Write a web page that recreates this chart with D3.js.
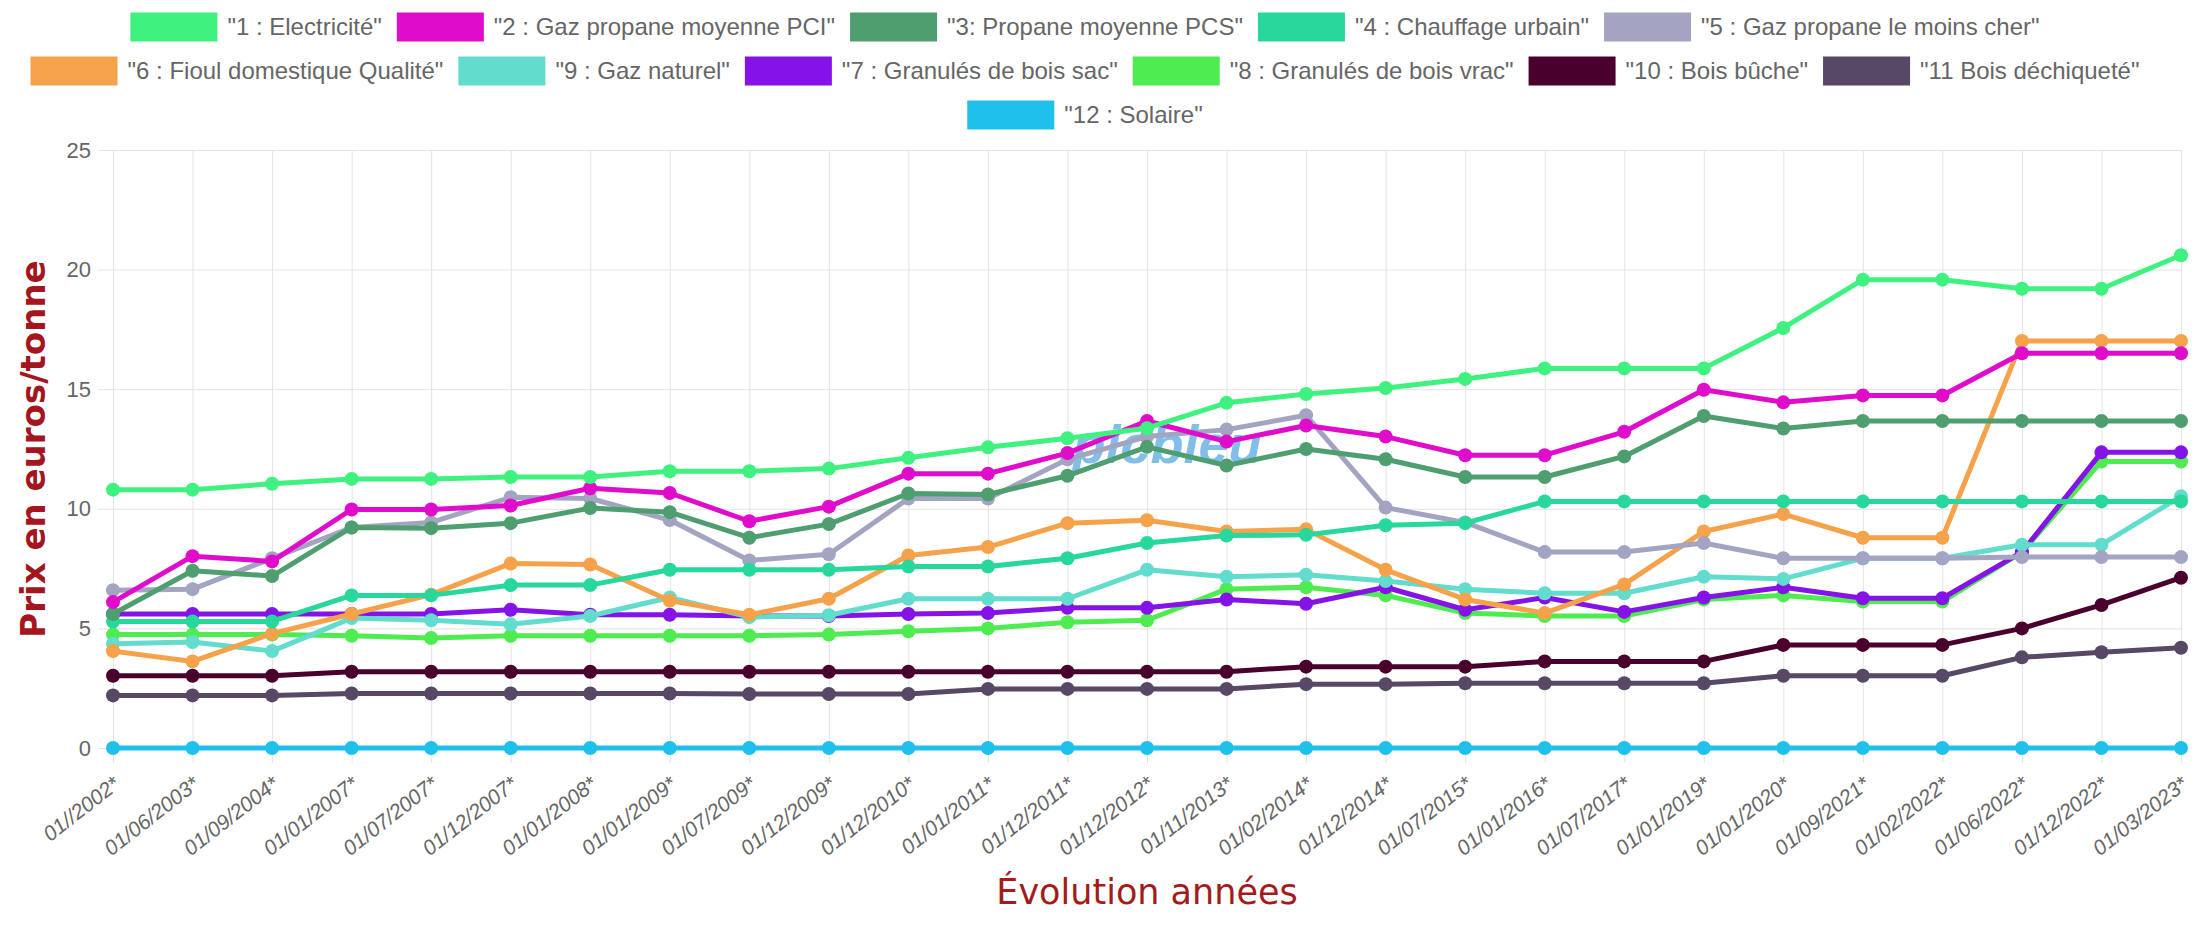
<!DOCTYPE html>
<html>
<head>
<meta charset="utf-8">
<script src="https://cdn.jsdelivr.net/npm/d3@7"></script>
<style>
  body { margin: 0; background: #fff; }
  svg { display: block; }
</style>
</head>
<body>
<script>
// Dates (x categories)
const dates = ["01//2002*", "01/06/2003*", "01/09/2004*", "01/01/2007*", "01/07/2007*", "01/12/2007*",
  "01/01/2008*", "01/01/2009*", "01/07/2009*", "01/12/2009*", "01/12/2010*", "01/01/2011*",
  "01/12/2011*", "01/12/2012*", "01/11/2013*", "01/02/2014*", "01/12/2014*", "01/07/2015*",
  "01/01/2016*", "01/07/2017*", "01/01/2019*", "01/01/2020*", "01/09/2021*", "01/02/2022*",
  "01/06/2022*", "01/12/2022*", "01/03/2023*"];

const yTicks = [0, 5, 10, 15, 20, 25];

// Series, in legend order
const seriesNames = ["\"1 : Electricité\"", "\"2 : Gaz propane moyenne PCI\"", "\"3: Propane moyenne PCS\"",
  "\"4 : Chauffage urbain\"", "\"5 : Gaz propane le moins cher\"", "\"6 : Fioul domestique Qualité\"",
  "\"9 : Gaz naturel\"", "\"7 : Granulés de bois sac\"", "\"8 : Granulés de bois vrac\"",
  "\"10 : Bois bûche\"", "\"11 Bois déchiqueté\"", "\"12 : Solaire\""];

const seriesColors = ["#3ff27f", "#e00ccb", "#4e9e6f", "#27d79c", "#a2a4c2", "#f5a24a",
  "#62dccd", "#8512e6", "#4eec50", "#4a002c", "#574865", "#1fc0ec"];

const electricite = [10.8, 10.8, 11.05, 11.25, 11.25, 11.33, 11.33, 11.57, 11.57, 11.68, 12.13, 12.57, 12.95,
  13.37, 14.43, 14.8, 15.05, 15.43, 15.87, 15.87, 15.87, 17.56, 19.58, 19.58, 19.2, 19.2, 20.6];
const propanePCI = [6.1, 8.02, 7.8, 9.97, 9.97, 10.14, 10.86, 10.66, 9.48, 10.09, 11.47, 11.47, 12.33,
  13.67, 12.81, 13.48, 13.02, 12.24, 12.24, 13.22, 14.98, 14.45, 14.74, 14.74, 16.5, 16.5, 16.5];
const propanePCS = [5.6, 7.41, 7.19, 9.22, 9.19, 9.4, 10.03, 9.86, 8.79, 9.36, 10.64, 10.6, 11.38,
  12.59, 11.81, 12.5, 12.07, 11.33, 11.33, 12.19, 13.88, 13.36, 13.67, 13.67, 13.67, 13.67, 13.67];
const chauffageUrbain = [5.29, 5.29, 5.29, 6.38, 6.38, 6.81, 6.81, 7.45, 7.45, 7.45, 7.59, 7.59, 7.93,
  8.57, 8.88, 8.91, 9.31, 9.4, 10.31, 10.31, 10.31, 10.31, 10.31, 10.31, 10.31, 10.31, 10.31];
const propaneMoinsCher = [6.6, 6.64, 7.93, 9.22, 9.43, 10.48, 10.43, 9.53, 7.84, 8.1, 10.43, 10.43, 12.07,
  13.02, 13.31, 13.91, 10.05, 9.43, 8.19, 8.19, 8.57, 7.93, 7.93, 7.93, 7.98, 7.98, 7.98];
const fioul = [4.05, 3.62, 4.78, 5.6, 6.41, 7.71, 7.67, 6.16, 5.57, 6.24, 8.05, 8.4, 9.4,
  9.52, 9.05, 9.14, 7.45, 6.21, 5.64, 6.84, 9.05, 9.78, 8.79, 8.79, 17.02, 17.02, 17.02];
const gazNaturel = [4.36, 4.43, 4.05, 5.43, 5.34, 5.17, 5.52, 6.29, 5.47, 5.55, 6.24, 6.24, 6.24,
  7.45, 7.16, 7.24, 6.98, 6.64, 6.47, 6.47, 7.16, 7.07, 7.93, 7.93, 8.5, 8.5, 10.52];
const granulesSac = [5.6, 5.6, 5.6, 5.6, 5.6, 5.78, 5.57, 5.57, 5.52, 5.52, 5.6, 5.64, 5.86,
  5.86, 6.21, 6.03, 6.72, 5.78, 6.29, 5.69, 6.29, 6.72, 6.26, 6.26, 8.19, 12.36, 12.36];
const granulesVrac = [4.74, 4.74, 4.74, 4.69, 4.6, 4.69, 4.69, 4.69, 4.69, 4.74, 4.88, 5.0, 5.26,
  5.34, 6.64, 6.72, 6.38, 5.64, 5.52, 5.52, 6.21, 6.38, 6.12, 6.12, 8.19, 11.98, 11.98];
const boisBuche = [3.02, 3.02, 3.02, 3.19, 3.19, 3.19, 3.19, 3.19, 3.19, 3.19, 3.19, 3.19, 3.19,
  3.19, 3.19, 3.4, 3.4, 3.4, 3.62, 3.62, 3.62, 4.31, 4.31, 4.31, 5.0, 5.98, 7.12];
const boisDechiquete = [2.2, 2.2, 2.2, 2.28, 2.28, 2.28, 2.28, 2.28, 2.26, 2.26, 2.26, 2.47, 2.47,
  2.47, 2.47, 2.67, 2.67, 2.71, 2.71, 2.71, 2.71, 3.02, 3.02, 3.02, 3.79, 4.0, 4.19];
const solaire = [0, 0, 0, 0, 0, 0, 0, 0, 0, 0, 0, 0, 0, 0, 0, 0, 0, 0, 0, 0, 0, 0, 0, 0, 0, 0, 0];

const seriesValues = [electricite, propanePCI, propanePCS, chauffageUrbain, propaneMoinsCher, fioul,
  gazNaturel, granulesSac, granulesVrac, boisBuche, boisDechiquete, solaire];

// Dimensions
const W = 2196, H = 951;
const margin = {top: 150, right: 15, bottom: 203, left: 113};
const width = W - margin.left - margin.right;
const height = H - margin.top - margin.bottom;

const svg = d3.select("body").append("svg")
  .attr("width", W)
  .attr("height", H)
  .style("font-family", "'Liberation Sans', Arial, sans-serif");

const g = svg.append("g")
  .attr("transform", "translate(" + margin.left + "," + margin.top + ")");

// Scales
const x = d3.scalePoint().domain(dates).range([0, width]);
const y = d3.scaleLinear().domain([0, 25]).range([height, 0]);

// Y axis + horizontal grid
const yAxis = g.append("g")
  .call(d3.axisLeft(y).tickValues(yTicks).tickSizeInner(-width).tickSizeOuter(0).tickPadding(22));
yAxis.select(".domain").remove();
yAxis.selectAll("line").attr("x1", -15).attr("stroke", "#e4e4e4");
yAxis.selectAll("text").attr("fill", "#666").style("font-size", "22px");

// X axis + vertical grid
const xAxis = g.append("g")
  .attr("transform", "translate(0," + height + ")")
  .call(d3.axisBottom(x).tickSizeInner(-height).tickSizeOuter(0));
xAxis.select(".domain").remove();
xAxis.selectAll("line").attr("y1", 15).attr("stroke", "#e4e4e4");
xAxis.selectAll("text")
  .attr("x", 0).attr("y", 0).attr("dy", "0.35em")
  .attr("text-anchor", "end")
  .attr("transform", "translate(3,33) rotate(-38)")
  .attr("fill", "#666")
  .style("font-size", "21px")
  .style("font-style", "italic");

// Watermark
g.append("text")
  .attr("x", x(dates[12]) + 5)
  .attr("y", y(11.9))
  .attr("fill", "#2f95dc")
  .attr("opacity", 0.6)
  .style("font-size", "54px")
  .style("font-weight", "bold")
  .style("font-style", "italic")
  .text("picbleu");

// Lines (first dataset drawn last, so on top)
const line = d3.line()
  .x((d, i) => x(dates[i]))
  .y(d => y(d));

const order = d3.range(seriesValues.length).reverse();
order.forEach(k => {
  const s = g.append("g");
  s.append("path")
    .datum(seriesValues[k])
    .attr("fill", "none")
    .attr("stroke", seriesColors[k])
    .attr("stroke-width", 5)
    .attr("stroke-linejoin", "round")
    .attr("d", line);
  s.selectAll("circle")
    .data(seriesValues[k])
    .enter().append("circle")
    .attr("cx", (d, i) => x(dates[i]))
    .attr("cy", d => y(d))
    .attr("r", 7)
    .attr("fill", seriesColors[k]);
});

// Axis titles
svg.append("text")
  .attr("x", margin.left + width / 2)
  .attr("y", 904)
  .attr("text-anchor", "middle")
  .attr("fill", "#a31c1c")
  .style("font-family", "'Comic Sans MS', 'DejaVu Sans', sans-serif")
  .style("font-size", "35px")
  .text("Évolution années");

svg.append("text")
  .attr("transform", "translate(45," + (margin.top + height / 2) + ") rotate(-90)")
  .attr("text-anchor", "middle")
  .attr("fill", "#a3161d")
  .style("font-family", "'DejaVu Sans', sans-serif")
  .style("font-weight", "bold")
  .style("font-size", "34px")
  .text("Prix en euros/tonne");

// Legend (wrapped into centred rows)
const legendFont = 24, boxW = 87, boxH = 29, boxGap = 10, itemGap = 15, maxRow = 2180;
const legendCenter = 1085, legendTop = 27, rowStep = 44;
const legend = svg.append("g");

const items = seriesNames.map((name, i) => {
  const t = legend.append("text").style("font-size", legendFont + "px").text(name);
  const tw = t.node().getComputedTextLength();
  t.remove();
  return {name: name, color: seriesColors[i], w: boxW + boxGap + tw};
});

const rows = [];
let cur = [], curW = 0;
items.forEach(it => {
  const extra = cur.length ? itemGap + it.w : it.w;
  if (cur.length && curW + extra > maxRow) {
    rows.push({items: cur, w: curW});
    cur = [it];
    curW = it.w;
  } else {
    cur.push(it);
    curW += extra;
  }
});
rows.push({items: cur, w: curW});

rows.forEach((row, r) => {
  let xPos = legendCenter - row.w / 2;
  const yc = legendTop + r * rowStep;
  row.items.forEach(it => {
    legend.append("rect")
      .attr("x", xPos)
      .attr("y", yc - boxH / 2)
      .attr("width", boxW)
      .attr("height", boxH)
      .attr("fill", it.color);
    legend.append("text")
      .attr("x", xPos + boxW + boxGap)
      .attr("y", yc)
      .attr("dy", "0.35em")
      .attr("fill", "#666")
      .style("font-size", legendFont + "px")
      .text(it.name);
    xPos += it.w + itemGap;
  });
});
</script>
</body>
</html>
